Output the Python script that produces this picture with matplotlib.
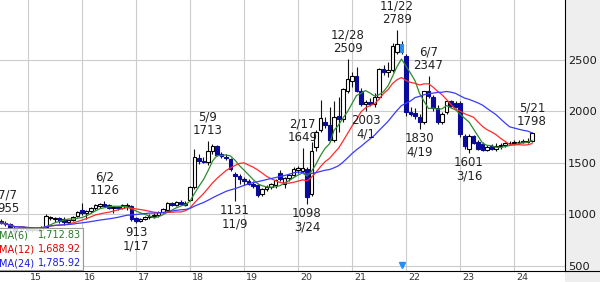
import matplotlib
matplotlib.use('Agg')
import matplotlib.pyplot as plt
import numpy as np
import pandas as pd
from matplotlib.patches import Rectangle
from matplotlib.lines import Line2D

# ---------------- data (monthly candles, 2014-07 .. 2024-05) ----------------
months = pd.period_range('2014-07', '2024-05', freq='M')

opens = [940, 915, 905, 870, 840, 865,
         870, 845, 860, 850, 880, 965, 955, 965, 960, 925, 950, 985,
         1040, 1010, 1030, 1065, 1080, 1105, 1090, 1060, 1065, 1060, 1080, 1080,
         965, 935, 955, 975, 985, 990, 1020, 1040, 1110, 1090, 1125, 1110,
         1140, 1265, 1550, 1520, 1505, 1612, 1660, 1585, 1560, 1534, 1390, 1370,
         1340, 1320, 1300, 1290, 1200, 1245, 1270, 1290, 1400, 1300, 1350, 1380,
         1430, 1420, 1437, 1200, 1650, 1820, 1900, 1870, 1720, 1960, 1930, 2200,
         2300, 2340, 2194, 2070, 2090, 2070, 2136, 2408, 2385, 2400, 2580, 2650,
         2540, 1990, 1985, 1950, 1900, 2194, 2140, 2030, 1900, 1990, 2097, 2080,
         2080, 1760, 1640, 1757, 1700, 1680, 1630, 1660, 1640, 1665, 1675, 1690,
         1695, 1700, 1710, 1700, 1715]
highs = [955, 935, 915, 885, 880, 890,
         880, 870, 880, 890, 1000, 985, 980, 980, 975, 950, 985, 1035,
         1110, 1045, 1075, 1100, 1115, 1126, 1105, 1080, 1085, 1100, 1110, 1090,
         980, 965, 985, 1000, 1010, 1035, 1060, 1120, 1125, 1130, 1140, 1130,
         1275, 1631, 1590, 1560, 1713, 1680, 1670, 1610, 1590, 1545, 1410, 1390,
         1360, 1345, 1320, 1300, 1260, 1290, 1310, 1340, 1430, 1360, 1390, 1460,
         1470, 1649, 1460, 1700, 1820, 2110, 1950, 2040, 2100, 2140, 2230, 2509,
         2380, 2430, 2230, 2110, 2130, 2180, 2420, 2450, 2480, 2660, 2789, 2680,
         2560, 2040, 2030, 1980, 2200, 2347, 2160, 2060, 1990, 2110, 2110, 2100,
         2100, 1780, 1780, 1770, 1720, 1700, 1670, 1680, 1690, 1690, 1700, 1710,
         1720, 1725, 1730, 1740, 1798]
lows = [905, 890, 850, 800, 830, 845,
        830, 830, 840, 840, 870, 950, 930, 920, 900, 910, 940, 975,
        990, 960, 1010, 1040, 1060, 1070, 1050, 1010, 1040, 1050, 1040, 940,
        913, 925, 945, 960, 970, 980, 1010, 1030, 1080, 1080, 1090, 1085,
        1130, 1250, 1490, 1495, 1480, 1590, 1570, 1550, 1530, 1420, 1131, 1300,
        1290, 1290, 1260, 1170, 1180, 1230, 1250, 1260, 1320, 1260, 1320, 1370,
        1400, 1400, 1098, 1180, 1620, 1800, 1840, 1700, 1700, 1800, 1900, 2180,
        2240, 2190, 2050, 2003, 2050, 2040, 2120, 2350, 2330, 2380, 2560, 2560,
        1960, 1960, 1930, 1830, 1880, 2130, 2000, 1880, 1880, 1975, 2040, 2030,
        1750, 1640, 1601, 1680, 1630, 1615, 1615, 1625, 1620, 1640, 1655, 1670,
        1680, 1685, 1690, 1690, 1705]
closes = [915, 905, 870, 840, 865, 870,
          845, 860, 850, 880, 985, 975, 970, 935, 925, 945, 980, 1025,
          1010, 1035, 1065, 1095, 1105, 1085, 1060, 1070, 1060, 1090, 1095, 955,
          935, 955, 975, 985, 995, 1025, 1050, 1110, 1090, 1120, 1100, 1095,
          1262, 1553, 1515, 1505, 1612, 1660, 1580, 1565, 1550, 1437, 1370, 1340,
          1320, 1300, 1280, 1190, 1245, 1270, 1300, 1330, 1340, 1350, 1380, 1440,
          1455, 1450, 1165, 1620, 1800, 1940, 1870, 1720, 1950, 1922, 2214, 2311,
          2340, 2194, 2068, 2090, 2070, 2140, 2408, 2380, 2400, 2640, 2650, 2575,
          1990, 1975, 1960, 1900, 2194, 2146, 2030, 1900, 1980, 2097, 2050, 2040,
          1780, 1660, 1757, 1690, 1640, 1630, 1650, 1640, 1665, 1675, 1690, 1695,
          1700, 1705, 1700, 1715, 1790]

highlight_month = '2021-12'

year_labels = ['15', '16', '17', '18', '19', '20', '21', '22', '23', '24']

ann_month = ['2014-07', '2016-06', '2017-01', '2018-05', '2018-11', '2020-02', '2020-03',
             '2020-12', '2021-04', '2021-11', '2022-04', '2022-06', '2023-03', '2024-05']
ann_date = ['7/7', '6/2', '1/17', '5/9', '11/9', '2/17', '3/24',
            '12/28', '4/1', '11/22', '4/19', '6/7', '3/16', '5/21']
ann_price = [955, 1126, 913, 1713, 1131, 1649, 1098, 2509, 2003, 2789, 1830, 2347, 1601, 1798]
ann_kind = ['H', 'H', 'L', 'H', 'L', 'H', 'L', 'H', 'L', 'H', 'L', 'H', 'L', 'H']

ma_periods = [6, 12, 24]
ma_legend_values = ['1,712.83', '1,688.92', '1,785.92']

# ---------------- figure ----------------
FW, FH = 600, 282
PW, PB = 565, 11          # plot width in px, bottom strip height in px
PH = FH - PB

fig = plt.figure(figsize=(FW / 100, FH / 100), dpi=100)
fig.patch.set_facecolor('white')
fig.add_artist(Rectangle((PW / FW, 0), (FW - PW) / FW, 1, transform=fig.transFigure,
                         facecolor='#EEEEEE', edgecolor='none', zorder=0))
ax = fig.add_axes([0, PB / FH, PW / FW, PH / FH])
ax.set_facecolor('white')

n = len(closes)
x = np.arange(n)
o = np.array(opens, float)
h = np.array(highs, float)
l = np.array(lows, float)
c = np.array(closes, float)
mstr = [str(m) for m in months]

ax.set_xlim(-0.22, 125.33)
ax.set_ylim(451, 3082)

jan_idx = [i for i, m in enumerate(months) if m.month == 1]
ax.set_xticks(jan_idx)
ax.set_xticklabels([])
ax.set_yticks([500, 1000, 1500, 2000, 2500])
ax.grid(True, color='#CCCCCC', lw=0.8)
ax.set_axisbelow(True)
ax.yaxis.tick_right()
ax.tick_params(axis='y', length=0, pad=2.3, labelsize=8.2, labelcolor='#1a1a1a')
ax.tick_params(axis='x', length=0)
for s in ['top', 'left']:
    ax.spines[s].set_visible(False)
for s in ['right', 'bottom']:
    ax.spines[s].set_color('black')
    ax.spines[s].set_linewidth(0.8)
fig.add_artist(Line2D([PW / FW, 1], [PB / FH, PB / FH], transform=fig.transFigure,
                      color='black', lw=0.8))

# year labels
for idx, lab in zip(jan_idx, year_labels):
    ax.annotate(lab, xy=(idx, 0), xycoords=('data', 'axes fraction'),
                xytext=(2, -6), textcoords='offset pixels', ha='left', va='center',
                fontsize=6.8, color='#333333', annotation_clip=False)

# candles
up = c >= o
down_col = '#0A0A9C'
face = np.where(up, 'white', down_col).astype(object)
edge = np.where(up, 'black', down_col).astype(object)
hi = mstr.index(highlight_month)
face[hi] = '#2A8CF0'
edge[hi] = '#2A8CF0'
ax.vlines(x, l, h, color='#111111', lw=0.8, zorder=2)
bottom = np.minimum(o, c)
height = np.maximum(np.abs(c - o), 8)
ax.bar(x, height, bottom=bottom, width=0.8, color=list(face), edgecolor=list(edge),
       linewidth=0.8, zorder=3)

# moving averages
s = pd.Series(c)
ma_colors = ['#2E8B2E', '#FF2A2A', '#3A3AFF']
for p, col in zip(ma_periods, ma_colors):
    ax.plot(x, s.rolling(p, min_periods=1).mean(), color=col, lw=0.9, zorder=4)

# marker
ax.plot(hi, 505, marker='v', color='#1E90FF', markersize=4.5, zorder=5, clip_on=False)

# annotations
for m, d, p, k in zip(ann_month, ann_date, ann_price, ann_kind):
    i = mstr.index(m)
    dx = 7 if i == 0 else 0
    if k == 'H':
        ax.annotate(f'{d}\n{p}', xy=(i, p), xytext=(dx, 4), textcoords='offset pixels',
                    ha='center', va='bottom', fontsize=8.5, color='#222222',
                    linespacing=1.05, zorder=6)
    else:
        ax.annotate(f'{p}\n{d}', xy=(i, p), xytext=(dx, -3), textcoords='offset pixels',
                    ha='center', va='top', fontsize=8.5, color='#222222',
                    linespacing=1.05, zorder=6)

# MA legend box
def axfx(px):
    return px / PW

def axfy(py):
    return (PH - py) / PH

ax.add_patch(Rectangle((axfx(-2), axfy(270)), axfx(85), 42 / PH, transform=ax.transAxes,
                       facecolor='white', alpha=0.85, edgecolor='none', zorder=7, clip_on=False))
ax.add_patch(Rectangle((axfx(-2), axfy(270)), axfx(85), 42 / PH, transform=ax.transAxes,
                       facecolor='none', edgecolor='#9A9A9A', lw=0.8, zorder=8, clip_on=False))
text_cols = ['#2A7A2A', '#E00000', '#1A1AE0']
for r, (p, v, col) in enumerate(zip(ma_periods, ma_legend_values, text_cols)):
    yy = axfy(235 + 14 * r)
    ax.text(axfx(-1), yy, f'MA({p})', transform=ax.transAxes, ha='left', va='center',
            fontsize=7, color=col, zorder=9)
    ax.text(axfx(81), yy, v, transform=ax.transAxes, ha='right', va='center',
            fontsize=7, color=col, zorder=9)

fig.savefig('out.png', dpi=100)
